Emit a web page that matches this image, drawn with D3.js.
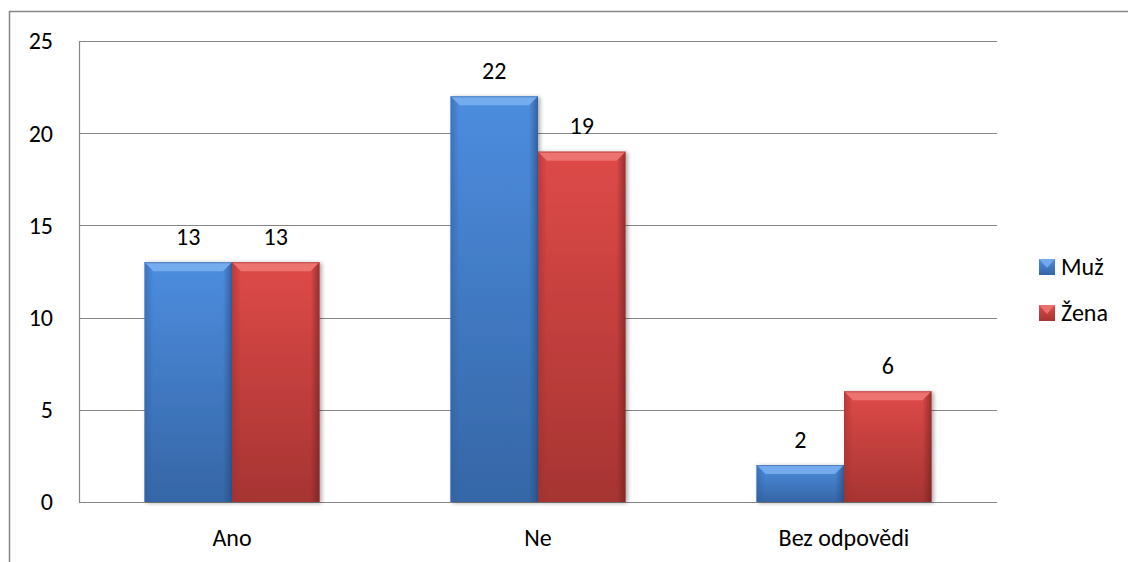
<!DOCTYPE html>
<html>
<head>
<meta charset="utf-8">
<script src="https://cdn.jsdelivr.net/npm/d3@7/dist/d3.min.js"></script>
<style>
  html, body { margin: 0; padding: 0; background: #fff; }
  svg { display: block; }
  text { font-family: Carlito, Lato, "Liberation Sans", sans-serif; fill: #000; }
</style>
</head>
<body>
<svg id="chart" width="1128" height="562"></svg>
<script>
// Survey answers by gender
const categories = ["Ano", "Ne", "Bez odpovědi"];
const seriesNames = ["Muž", "Žena"];
const muz = [13, 22, 2];
const zena = [13, 19, 6];
const yTicks = [0, 5, 10, 15, 20, 25];

const svg = d3.select("#chart");
const W = 1128, H = 562;
const plot = { left: 79, right: 997, top: 41, bottom: 502 };
const FONT = 24;

// Colour sets per series
const palette = {
  "Muž":  { top: "#4d8ddf", bottom: "#3566a6", bevelTop: "#7db2f0", side: "#2f5f9e", dark: "#24487a" },
  "Žena": { top: "#de4a48", bottom: "#a63432", bevelTop: "#f07a77", side: "#9e2f2d", dark: "#6e1f1e" }
};

const defs = svg.append("defs");
seriesNames.forEach((s, i) => {
  const g = defs.append("linearGradient").attr("id", "grad" + i)
    .attr("x1", 0).attr("y1", 0).attr("x2", 0).attr("y2", 1);
  g.append("stop").attr("offset", "0%").attr("stop-color", palette[s].top);
  g.append("stop").attr("offset", "100%").attr("stop-color", palette[s].bottom);
  const gl = defs.append("linearGradient").attr("id", "left" + i)
    .attr("x1", 0).attr("y1", 0).attr("x2", 1).attr("y2", 0);
  gl.append("stop").attr("offset", "0%").attr("stop-color", palette[s].side).attr("stop-opacity", 0.9);
  gl.append("stop").attr("offset", "100%").attr("stop-color", palette[s].side).attr("stop-opacity", 0.0);
  const gr = defs.append("linearGradient").attr("id", "right" + i)
    .attr("x1", 0).attr("y1", 0).attr("x2", 1).attr("y2", 0);
  gr.append("stop").attr("offset", "0%").attr("stop-color", palette[s].dark).attr("stop-opacity", 0.0);
  gr.append("stop").attr("offset", "100%").attr("stop-color", palette[s].dark).attr("stop-opacity", 0.9);
});
const shadow = defs.append("filter").attr("id", "shadow")
  .attr("x", "-10%").attr("y", "-10%").attr("width", "130%").attr("height", "130%");
shadow.append("feGaussianBlur").attr("in", "SourceAlpha").attr("stdDeviation", 2);
shadow.append("feOffset").attr("dx", 2).attr("dy", 1).attr("result", "off");
shadow.append("feComponentTransfer").append("feFuncA").attr("type", "linear").attr("slope", 0.35);
const merge = shadow.append("feMerge");
merge.append("feMergeNode");
merge.append("feMergeNode").attr("in", "SourceGraphic");

// Outer chart frame
svg.append("rect")
  .attr("x", 9.5).attr("y", 11.5).attr("width", W).attr("height", H)
  .attr("fill", "none").attr("stroke", "#868686").attr("stroke-width", 1.5);

const x0 = d3.scaleBand().domain(categories)
  .range([plot.left, plot.right]).paddingInner(0.428).paddingOuter(0.214);
const x1 = d3.scaleBand().domain(seriesNames).range([0, x0.bandwidth()]);
const y = d3.scaleLinear().domain([0, 25]).range([plot.bottom, plot.top]);

// Gridlines
svg.append("g").selectAll("line").data(yTicks).join("line")
  .attr("x1", plot.left).attr("x2", plot.right)
  .attr("y1", d => Math.round(y(d)) + 0.5).attr("y2", d => Math.round(y(d)) + 0.5)
  .attr("stroke", "#868686").attr("stroke-width", 1.2);

// Left axis line
svg.append("line")
  .attr("x1", plot.left + 0.5).attr("x2", plot.left + 0.5)
  .attr("y1", plot.top).attr("y2", plot.bottom + 0.5)
  .attr("stroke", "#868686").attr("stroke-width", 1.2);

// Y tick labels
svg.append("g").selectAll("text").data(yTicks).join("text")
  .attr("x", 53).attr("y", d => y(d))
  .attr("dy", "0.35em").attr("text-anchor", "end")
  .attr("font-size", FONT).text(d => d);

// Category labels
svg.append("g").selectAll("text").data(categories).join("text")
  .attr("x", d => x0(d) + x0.bandwidth() / 2).attr("y", 538)
  .attr("dy", "0.35em").attr("text-anchor", "middle")
  .attr("font-size", FONT).text(d => d);

// Bars with bevelled edges
const rows = [];
categories.forEach((c, ci) => {
  rows.push({ cat: c, s: "Muž", si: 0, v: muz[ci] });
  rows.push({ cat: c, s: "Žena", si: 1, v: zena[ci] });
});

const bars = svg.append("g").selectAll("g").data(rows).join("g")
  .attr("filter", "url(#shadow)");

bars.each(function(d) {
  const g = d3.select(this);
  const bx = x0(d.cat) + x1(d.s);
  const bw = x1.bandwidth();
  const by = y(d.v);
  const bh = y(0) - y(d.v);
  const b = Math.min(9, bh / 2, bw / 2);
  g.append("rect").attr("x", bx).attr("y", by).attr("width", bw).attr("height", bh)
    .attr("fill", `url(#grad${d.si})`);
  g.append("polygon")
    .attr("points", [[bx, by], [bx + bw, by], [bx + bw - b, by + b], [bx + b, by + b]].join(" "))
    .attr("fill", palette[d.s].bevelTop).attr("opacity", 0.85);
  g.append("polygon")
    .attr("points", [[bx, by], [bx + b, by + b], [bx + b, by + bh], [bx, by + bh]].join(" "))
    .attr("fill", `url(#left${d.si})`).attr("opacity", 0.6);
  g.append("polygon")
    .attr("points", [[bx + bw, by], [bx + bw, by + bh], [bx + bw - b, by + bh], [bx + bw - b, by + b]].join(" "))
    .attr("fill", `url(#right${d.si})`).attr("opacity", 0.7);
  g.append("line").attr("x1", bx).attr("x2", bx + bw).attr("y1", by + 0.5).attr("y2", by + 0.5)
    .attr("stroke", palette[d.s].side).attr("stroke-width", 1).attr("opacity", 0.6);
});

// Value labels
svg.append("g").selectAll("text").data(rows).join("text")
  .attr("x", d => x0(d.cat) + x1(d.s) + x1.bandwidth() / 2)
  .attr("y", d => y(d.v) - 26)
  .attr("dy", "0.35em").attr("text-anchor", "middle")
  .attr("font-size", FONT).text(d => d.v);

// Legend
const legend = svg.append("g").selectAll("g").data(seriesNames).join("g")
  .attr("transform", (d, i) => `translate(1039, ${267 + i * 46})`);
legend.append("rect").attr("x", 0).attr("y", -8).attr("width", 16).attr("height", 16)
  .attr("fill", (d, i) => `url(#grad${i})`);
legend.append("polygon")
  .attr("points", "0,-8 16,-8 8,1")
  .attr("fill", d => palette[d].bevelTop).attr("opacity", 0.8);
legend.append("text").attr("x", 22).attr("y", 0).attr("dy", "0.35em")
  .attr("font-size", FONT).text(d => d);
</script>
</body>
</html>
